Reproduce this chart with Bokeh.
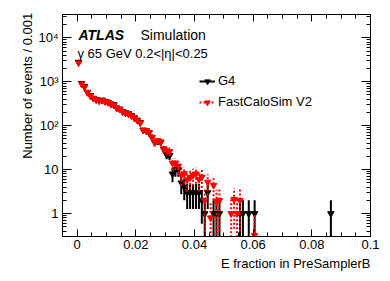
import math
from bokeh.plotting import figure
from bokeh.models import (Range1d, FixedTicker, LinearAxis, LogAxis, Label,
                          Legend, LegendItem, ColumnDataSource, Title)
from bokeh.embed import file_html
from bokeh.resources import INLINE

# ---------------- data ----------------
g4_x = [0.0005, 0.0015, 0.0025, 0.0035, 0.0045, 0.0055, 0.0065, 0.0075, 0.0085, 0.0095,
        0.0105, 0.0115, 0.0125, 0.0135, 0.0145, 0.0155, 0.0165, 0.0175, 0.0185, 0.0195,
        0.0205, 0.0215, 0.0225, 0.0235, 0.0245, 0.0255, 0.0265, 0.0275, 0.0285, 0.0295,
        0.0305, 0.0315, 0.0325, 0.0335, 0.0345, 0.0355, 0.0365, 0.0375, 0.0385, 0.0395,
        0.0405, 0.0415, 0.0425, 0.0435, 0.0445, 0.0465, 0.0475, 0.0485, 0.0555, 0.0565,
        0.0585, 0.0605, 0.0865]
g4_n = [2800, 920, 780, 580, 490, 425, 395, 375, 385, 360,
        345, 315, 300, 255, 240, 212, 198, 188, 172, 152,
        135, 118, 80, 77, 69, 54, 41, 44, 42, 29,
        22, 21, 8, 10, 10, 5, 4, 3, 3, 3,
        3, 3, 2, 1, 3, 1, 1, 1, 1, 1,
        1, 1, 1]

fcs_x = [0.0005, 0.0015, 0.0025, 0.0035, 0.0045, 0.0055, 0.0065, 0.0075, 0.0085, 0.0095,
         0.0105, 0.0115, 0.0125, 0.0135, 0.0145, 0.0155, 0.0165, 0.0175, 0.0185, 0.0195,
         0.0205, 0.0215, 0.0225, 0.0235, 0.0245, 0.0255, 0.0265, 0.0275, 0.0285, 0.0295,
         0.0305, 0.0315, 0.0325, 0.0335, 0.0345, 0.0355, 0.0365, 0.0375, 0.0385, 0.0395,
         0.0405, 0.0415, 0.0425, 0.0435, 0.0445, 0.0455, 0.0465, 0.0475, 0.0485, 0.0525,
         0.0535, 0.0545, 0.0555, 0.0605]
fcs_v = [2700, 900, 760, 570, 480, 418, 390, 368, 378, 352,
         338, 308, 292, 250, 236, 208, 194, 185, 168, 150,
         132, 116, 79, 78, 70, 55, 42, 46, 43, 30,
         27, 26, 14, 14, 12, 7.4, 8.1, 5.9, 6.6, 7.4,
         8.0, 6.0, 6.8, 2.0, 5.2, 0.8, 4.4, 1.9, 2.0, 1.0,
         2.1, 1.0, 2.0, 0.32]

x_ticks = [0, 0.02, 0.04, 0.06, 0.08, 0.1]
x_tick_labels = ["0", "0.02", "0.04", "0.06", "0.08", "0.1"]
y_ticks = [1, 10, 100, 1000, 10000]
y_tick_labels = ["1", "10", "10²", "10³", "10⁴"]
x_title = "E fraction in PreSamplerB"
y_title = "Number of events / 0.001"

bin_width = 0.001
fcs_weight = 1.3
FLOOR = 1e-3
FONT = "Liberation Sans"


def make_source(xs, vs, errs):
    return ColumnDataSource(dict(
        x=xs, y=vs,
        lo=[max(v - e, FLOOR) for v, e in zip(vs, errs)],
        hi=[v + e for v, e in zip(vs, errs)],
        xl=[x - bin_width / 2 for x in xs],
        xr=[x + bin_width / 2 for x in xs],
    ))


g4_src = make_source(g4_x, g4_n, [math.sqrt(n) for n in g4_n])
fcs_src = make_source(fcs_x, fcs_v, [math.sqrt(v * fcs_weight) for v in fcs_v])

# ---------------- figure ----------------
p = figure(width=390, height=281,
           x_range=Range1d(-0.005, 0.1), y_range=Range1d(0.3, 3.4e4),
           y_axis_type="log", output_backend="svg", toolbar_location=None,
           min_border_left=62, min_border_right=20, min_border_top=14,
           min_border_bottom=45)
p.background_fill_color = "white"
p.border_fill_color = "white"
p.outline_line_color = "black"
p.outline_line_width = 1
p.grid.visible = False

x_minor = [i * 0.005 for i in range(0, 21)]
y_minor = [k * 10 ** d for d in range(-1, 5) for k in range(2, 10)]
xt = FixedTicker(ticks=x_ticks, minor_ticks=x_minor)
yt = FixedTicker(ticks=y_ticks, minor_ticks=y_minor)


def style(ax, ticker, labels, show_labels, major_len, minor_len):
    ax.ticker = ticker
    ax.axis_line_color = "black"
    ax.axis_line_width = 1
    ax.major_tick_line_color = "black"
    ax.minor_tick_line_color = "black"
    ax.major_tick_in = major_len
    ax.major_tick_out = 0
    ax.minor_tick_in = minor_len
    ax.minor_tick_out = 0
    ax.major_label_text_font = FONT
    ax.major_label_text_color = "black"
    if show_labels:
        ax.major_label_overrides = {t: l for t, l in zip(ticker.ticks, labels)}
        ax.major_label_text_font_size = "13px"
    else:
        ax.major_label_overrides = {t: "" for t in ticker.ticks}
        ax.major_label_text_font_size = "0px"
        ax.major_label_standoff = 0


style(p.xaxis[0], xt, x_tick_labels, True, 7, 4)
p.xaxis[0].major_label_standoff = 3
style(p.yaxis[0], yt, y_tick_labels, True, 9, 4)
p.yaxis[0].major_label_standoff = 4

top_ax = LinearAxis()
style(top_ax, xt, x_tick_labels, False, 7, 4)
p.add_layout(top_ax, "above")
right_ax = LogAxis()
style(right_ax, yt, y_tick_labels, False, 9, 4)
p.add_layout(right_ax, "right")

# x title: right-aligned below the axis, as in the reference
p.add_layout(Title(text=x_title, align="right", standoff=4, offset=0,
                   text_font=FONT, text_font_size="13px", text_font_style="normal",
                   text_color="black"), "below")
# y title: the axis's own label, next to the tick labels; leading no-break
# spaces push the visible words towards the top end of the axis (ROOT style)
yax = p.yaxis[0]
yax.axis_label = "\u00a0" * 22 + y_title
yax.axis_label_standoff = 0
yax.axis_label_text_font = FONT
yax.axis_label_text_font_size = "13px"
yax.axis_label_text_font_style = "normal"
yax.axis_label_text_color = "black"

# ---------------- glyphs ----------------
g4_v = p.segment(x0="x", y0="lo", x1="x", y1="hi", source=g4_src,
                 line_color="black", line_width=2)
g4_h = p.segment(x0="xl", y0="y", x1="xr", y1="y", source=g4_src,
                 line_color="black", line_width=2)
g4_m = p.scatter(x="x", y="y", source=g4_src, marker="inverted_triangle",
                 size=6.5, fill_color="black", line_color="black")

fcs_vr = p.segment(x0="x", y0="lo", x1="x", y1="hi", source=fcs_src,
                   line_color="red", line_width=2, line_dash="2 2")
fcs_h = p.segment(x0="xl", y0="y", x1="xr", y1="y", source=fcs_src,
                  line_color="red", line_width=2, line_dash="2 2")
fcs_m = p.scatter(x="x", y="y", source=fcs_src, marker="inverted_triangle",
                  size=6.5, fill_color="red", line_color="red")

# ---------------- legend ----------------
legend = Legend(items=[LegendItem(label="G4", renderers=[g4_h, g4_m]),
                       LegendItem(label="FastCaloSim V2", renderers=[fcs_h, fcs_m])],
                location=(137, 127), padding=0, margin=0, spacing=6,
                glyph_width=16, glyph_height=14, label_height=14, label_standoff=3,
                border_line_color=None, background_fill_alpha=0,
                label_text_font=FONT, label_text_font_size="13px",
                label_text_color="black")
p.add_layout(legend)

# ---------------- texts ----------------
def lab(x, y, text, size="13px", style="normal"):
    p.add_layout(Label(x=x, y=y, x_units="screen", y_units="screen", text=text,
                       text_font=FONT, text_font_size=size, text_font_style=style,
                       text_align="left", text_baseline="alphabetic",
                       text_color="black"))


lab(16, 202, "ATLAS", size="14px", style="bold italic")
lab(78, 202, "Simulation", size="14px")
lab(15, 183, "γ 65 GeV 0.2<|η|<0.25")

open("out.html", "w").write(file_html(p, INLINE))
